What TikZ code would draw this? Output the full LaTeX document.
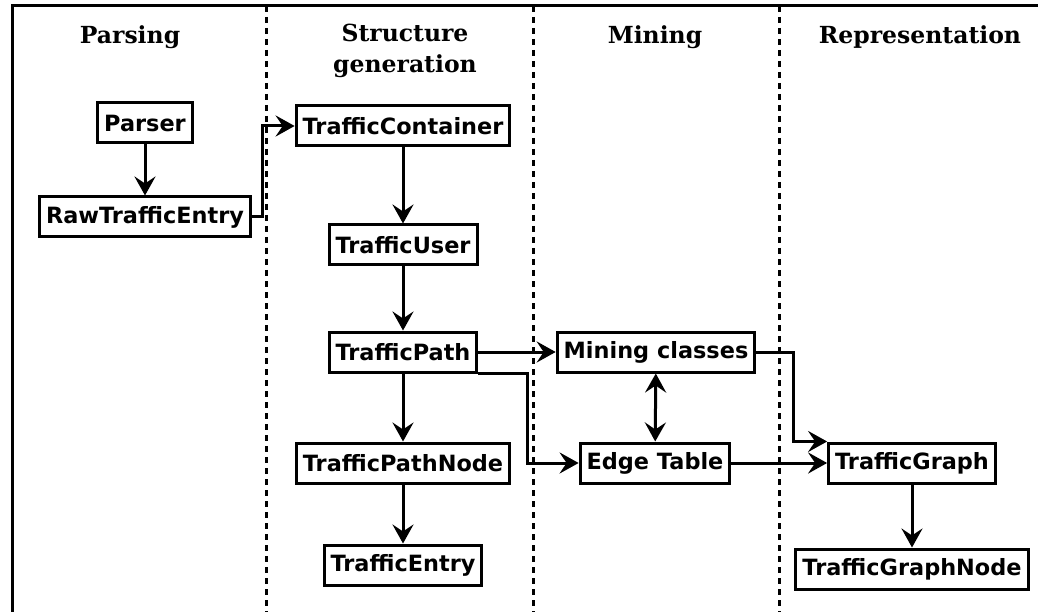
\documentclass[tikz,border=0pt]{standalone}
\usepackage{fontspec}
\usepackage{tikz}
\usetikzlibrary{arrows.meta}
\newfontfamily\boxfont{DejaVu Sans}
\newfontfamily\headfont{DejaVu Serif}
\tikzset{
	block/.style = {draw, line width = 3pt, inner xsep = 6.5pt, minimum height = 40pt,
		font = \boxfont\bfseries\fontsize{22.4}{26}\selectfont},
	heading/.style = {align = center, font = \headfont\bfseries\fontsize{23.5}{31}\selectfont},
	link/.style = {line width = 3pt},
	>={Stealth[length = 19pt, width = 21pt, inset = 7pt]}
}

\begin{document}
\begin{tikzpicture}[x = 1pt, y = -1pt]
\useasboundingbox (0, 0) rectangle (1038, 612);
\draw[line width = 3pt] (12, 640) -- (12, 6) -- (1060, 6);
\foreach \x in {266, 533, 779}
\draw[line width = 3pt, dash pattern = on 6pt off 5pt] (\x, 6) -- (\x, 612);

\node[heading] (hparse) at (130, 37) {Parsing};
\node[heading, anchor = north] (hstruct) at (405, 21) {Structure\\generation};
\node[heading] (hmine) at (655, 37) {Mining};
\node[heading] (hrepr) at (920, 37) {Representation};

\node[block] (parser) at (145, 123) {Parser};
\node[block] (rawentry) at (145, 217) {RawTrafficEntry};
\node[block] (container) at (403, 126) {TrafficContainer};
\node[block] (user) at (403, 245) {TrafficUser};
\node[block] (path) at (403, 352) {TrafficPath};
\node[block] (pathnode) at (403, 463) {TrafficPathNode};
\node[block] (entry) at (403, 565) {TrafficEntry};
\node[block] (mining) at (656, 352) {Mining classes};
\node[block] (edges) at (655, 463) {Edge Table};
\node[block] (graph) at (912, 463) {TrafficGraph};
\node[block] (graphnode) at (912, 569) {TrafficGraphNode};

\draw[link, ->] (parser) -- (rawentry);
\draw[link, ->] (rawentry.east) -- ++(11, 0) |- (container.west);
\draw[link, ->] (container) -- (user);
\draw[link, ->] (user) -- (path);
\draw[link, ->] (path) -- (pathnode);
\draw[link, ->] (pathnode) -- (entry);
\draw[link, ->] (path.east) -- (mining.west);
\draw[link, ->] (path.south east) -- ++(49, 0) |- (edges.west);
\draw[link, <->] (mining) -- (edges);
\draw[link, ->] (mining.east) -- ++(37, 0) |- (graph.north west);
\draw[link, ->] (edges) -- (graph);
\draw[link, ->] (graph) -- (graphnode);

\end{tikzpicture}
\end{document}
